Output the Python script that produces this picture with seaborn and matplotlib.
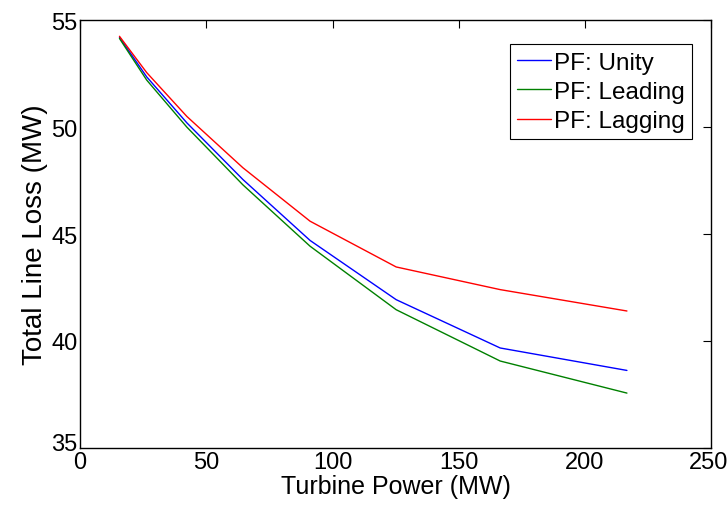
import pandas as pd
import matplotlib.pyplot as plt
import matplotlib.transforms as mtransforms
import seaborn as sns

# values
turbine_power = [15.6, 26.4, 42.3, 64.5, 91.1, 125.2, 166.4, 216.6]
loss_unity = [54.20, 52.35, 50.20, 47.55, 44.70, 41.93, 39.67, 38.62]
loss_leading = [54.15, 52.20, 50.00, 47.30, 44.43, 41.46, 39.06, 37.56]
loss_lagging = [54.25, 52.55, 50.50, 48.10, 45.60, 43.46, 42.40, 41.40]
series_names = ['PF: Unity', 'PF: Leading', 'PF: Lagging']
series_colors = ['#0000ff', '#008000', '#ff0000']

rows = []
for name, vals in zip(series_names, [loss_unity, loss_leading, loss_lagging]):
    for x, y in zip(turbine_power, vals):
        rows.append({'Turbine Power': x, 'Line Loss': y, 'PF': name})
data = pd.DataFrame(rows)

sns.set_style('white', {'text.color': 'black', 'axes.labelcolor': 'black',
                        'xtick.color': 'black', 'ytick.color': 'black'})
plt.rcParams['font.family'] = ['Liberation Sans', 'DejaVu Sans']

fig = plt.figure(figsize=(7.28, 5.06), dpi=100)
ax = fig.add_axes([0.11, 0.113, 0.867, 0.845])

sns.lineplot(data=data, x='Turbine Power', y='Line Loss', hue='PF',
             palette=series_colors, linewidth=1, ax=ax)

ax.set_xlim(0, 250)
ax.set_ylim(35, 55)
ax.set_xticks([0, 50, 100, 150, 200, 250])
ax.set_yticks([35, 40, 45, 50, 55])
ax.set_xlabel('Turbine Power (MW)', fontsize=18, labelpad=1)
ax.set_ylabel('Total Line Loss (MW)', fontsize=20, labelpad=2)
ax.tick_params(direction='in', length=6, width=0.8, labelsize=17,
               top=True, right=True, pad=2, colors='black')
for sp in ax.spines.values():
    sp.set_color('black')
    sp.set_linewidth(1)

# nudge the corner labels like the original (35 sits a bit high, 250 hugs the edge)
lbl = ax.get_yticklabels()[0]
lbl.set_transform(lbl.get_transform() + mtransforms.ScaledTranslation(0, 6 / 100, fig.dpi_scale_trans))
lbl = ax.get_xticklabels()[-1]
lbl.set_transform(lbl.get_transform() + mtransforms.ScaledTranslation(-3 / 100, 0, fig.dpi_scale_trans))

leg = ax.legend(title=None, loc='upper right', bbox_to_anchor=(0.97, 0.944),
                borderaxespad=0, fontsize=17.5, frameon=True,
                fancybox=False, edgecolor='black', framealpha=1,
                handlelength=1.4, handletextpad=0.12, borderpad=0.3,
                labelspacing=0.3)
leg.get_frame().set_linewidth(0.8)
for t in leg.get_texts():
    t.set_color('black')

plt.savefig('out.png', dpi=100)
